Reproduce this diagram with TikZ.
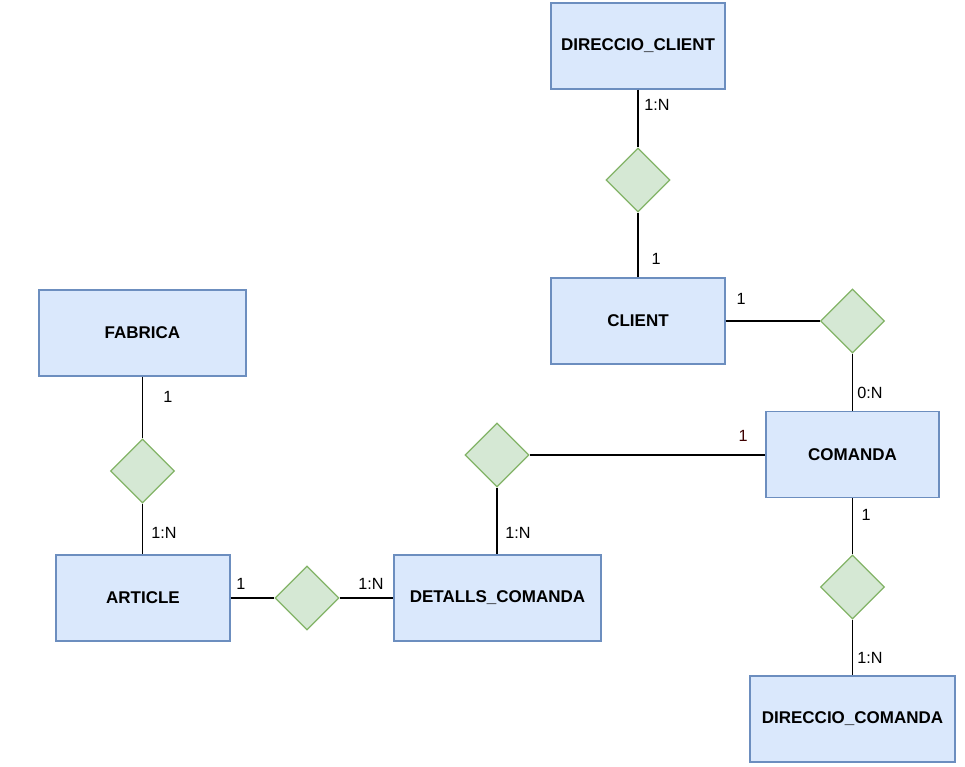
\documentclass[tikz,border=0pt]{standalone}
\usepackage{fontspec}
\setmainfont{Liberation Sans}
\usetikzlibrary{shapes.geometric}
\definecolor{entfill}{HTML}{DAE8FC}
\definecolor{entdraw}{HTML}{6C8EBF}
\definecolor{relfill}{HTML}{D5E8D4}
\definecolor{reldraw}{HTML}{82B366}
\begin{document}
\begin{tikzpicture}[x=1pt,y=-1pt,
  ent/.style={draw=entdraw,fill=entfill,line width=1.3pt,minimum height=86pt,inner sep=0pt,
    font=\fontsize{17}{20}\selectfont\bfseries},
  rel/.style={diamond,draw=reldraw,fill=relfill,line width=1.3pt,minimum width=64pt,minimum height=64pt,inner sep=0pt},
  conn/.style={draw=black,line width=1.3pt},
  card/.style={font=\fontsize{16.2}{19}\selectfont,inner sep=0pt,anchor=center}]
\useasboundingbox (0,0) rectangle (965,767);
% entities
\node[ent,minimum width=174pt] (dc) at (638,46) {DIRECCIO\_CLIENT};
\node[ent,minimum width=174pt] (client) at (638,321) {CLIENT};
\node[ent,minimum width=207pt] (fabrica) at (142.5,333) {FABRICA};
\node[ent,minimum width=173pt] (comanda) at (852.5,454.5) {COMANDA};
\node[ent,minimum width=174pt] (article) at (143,598) {ARTICLE};
\node[ent,minimum width=207pt] (detalls) at (497.5,598) {DETALLS\_COMANDA};
\node[ent,minimum width=205pt] (dircom) at (852.5,719) {DIRECCIO\_COMANDA};
% relationships
\node[rel] (d1) at (638,180) {};
\node[rel] (d2) at (852.5,321) {};
\node[rel] (d3) at (142.5,471) {};
\node[rel] (d4) at (307,598) {};
\node[rel] (d5) at (497,455) {};
\node[rel] (d6) at (852.5,587) {};
% connectors
\draw[conn] (dc.south) -- (d1.north);
\draw[conn] (d1.south) -- (client.north);
\draw[conn] (client.east) -- (d2.west);
\draw[conn] (d2.south) -- (comanda.north);
\draw[conn] (fabrica.south) -- (d3.north);
\draw[conn] (d3.south) -- (article.north -| d3.south);
\draw[conn] (article.east) -- (d4.west);
\draw[conn] (d4.east) -- (detalls.west);
\draw[conn] (d5.south) -- (detalls.north -| d5.south);
\draw[conn] (d5.east) -- (d5.east -| comanda.west);
\draw[conn] (comanda.south) -- (d6.north);
\draw[conn] (d6.south) -- (dircom.north);
% cardinalities
\node[card] (c1) at (657,105) {1:N};
\node[card] (c2) at (656,259) {1};
\node[card] (c3) at (741,299) {1};
\node[card] (c4) at (870,393) {0:N};
\node[card,text=black!60!red!60!black] (c5) at (743,436) {1};
\node[card] (c6) at (866,515) {1};
\node[card] (c7) at (870,658) {1:N};
\node[card] (c8) at (168,397) {1};
\node[card] (c9) at (164,533) {1:N};
\node[card] (c10) at (241,584) {1};
\node[card] (c11) at (371,584) {1:N};
\node[card] (c12) at (518,533) {1:N};
\end{tikzpicture}
\end{document}
